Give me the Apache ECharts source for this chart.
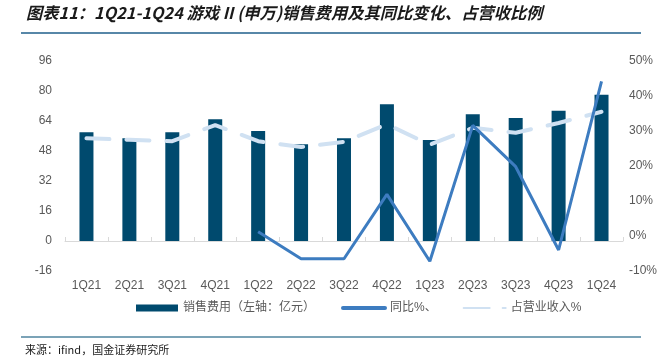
<!DOCTYPE html>
<html><head><meta charset="utf-8">
<script src="https://cdn.jsdelivr.net/npm/echarts@6/dist/echarts.min.js"></script>
<style>html,body{margin:0;padding:0;background:#fff}#c{width:660px;height:361px}</style>
</head><body><div id="c"></div>
<script>
var categories = ['1Q21','2Q21','3Q21','4Q21','1Q22','2Q22','3Q22','4Q22','1Q23','2Q23','3Q23','4Q23','1Q24'];
var salesExpense = [58, 54.8, 58, 65, 58.7, 51.6, 54.8, 72.9, 53.9, 67.6, 65.6, 69.5, 78];
var yoyPct = [null, null, null, null, 1.2, -6.5, -6.5, 11.9, -7.2, 31.6, 19.8, -4, 44.2];
var sharePct = [27.9, 27.5, 27.1, 31.7, 27.1, 25.4, 26.9, 31.9, 26.1, 30.9, 29.5, 32.3, 35.5];
var leftTicks = {min: -16, max: 96, interval: 16};
var rightTicks = {min: -10, max: 50, interval: 10};
var names = ['销售费用（左轴：亿元）', '同比%、', '占营业收入%'];
var titleText = '图表11：1Q21-1Q24 游戏 II (申万)销售费用及其同比变化、占营收比例';
var sourceText = '来源：ifind，国金证券研究所';

var FONT = '"Liberation Sans", "Noto Sans CJK SC", sans-serif';
var chart = echarts.init(document.getElementById('c'), null, {renderer: 'canvas'});
chart.setOption({
  animation: false,
  backgroundColor: '#fff',
  grid: {left: 65, right: 33, top: 61, bottom: 90},
  legend: {
    left: 131, top: 297,
    itemWidth: 42, itemHeight: 7, itemGap: 26,
    textStyle: {color: '#595959', fontSize: 12, fontFamily: FONT},
    data: [
      {name: names[0], icon: 'rect'},
      {name: names[1], itemStyle: {opacity: 0}, lineStyle: {width: 4, cap: 'round'}},
      {name: names[2], itemStyle: {opacity: 0}, lineStyle: {type: [26, 13], cap: 'round'}}
    ]
  },
  xAxis: {
    type: 'category', data: categories,
    axisLine: {onZero: true, lineStyle: {color: '#d9d9d9', width: 1}},
    axisTick: {show: true, inside: true, length: 4, lineStyle: {color: '#d9d9d9'}},
    axisLabel: {color: '#595959', fontSize: 12, margin: 9, fontFamily: FONT}
  },
  yAxis: [{
    type: 'value', min: leftTicks.min, max: leftTicks.max, interval: leftTicks.interval,
    splitLine: {show: false}, axisLine: {show: false}, axisTick: {show: false},
    axisLabel: {color: '#595959', fontSize: 12, margin: 13, fontFamily: FONT}
  }, {
    type: 'value', min: rightTicks.min, max: rightTicks.max, interval: rightTicks.interval,
    splitLine: {show: false}, axisLine: {show: false}, axisTick: {show: false},
    axisLabel: {color: '#595959', fontSize: 12, margin: 6, fontFamily: FONT, formatter: '{value}%'}
  }],
  series: [{
    name: names[0], type: 'bar', data: salesExpense, barWidth: 14,
    itemStyle: {color: '#004a6e'}, z: 2
  }, {
    name: names[1], type: 'line', yAxisIndex: 1, data: yoyPct, symbol: 'none',
    lineStyle: {color: '#3d7cc0', width: 3}, itemStyle: {color: '#3d7cc0'}, z: 4
  }, {
    name: names[2], type: 'line', yAxisIndex: 1, data: sharePct, symbol: 'none',
    lineStyle: {color: '#d0e1f2', width: 4, type: [23, 17], cap: 'round'},
    itemStyle: {color: '#d0e1f2'}, z: 3
  }],
  graphic: [
    {type: 'text', left: 26, top: 5, style: {text: titleText, font: 'italic bold 16.3px "Noto Sans CJK SC"', fill: '#1a1a1a'}},
    {type: 'line', shape: {x1: 21, y1: 33, x2: 641, y2: 33}, style: {stroke: '#1f5f8b', lineWidth: 1.5}},
    {type: 'line', shape: {x1: 21, y1: 337, x2: 641, y2: 337}, style: {stroke: '#4f849f', lineWidth: 1.5}},
    {type: 'text', left: 25, top: 344, style: {text: sourceText, font: '11px "Noto Sans CJK SC"', fill: '#1a1a1a'}}
  ]
});
</script></body></html>
